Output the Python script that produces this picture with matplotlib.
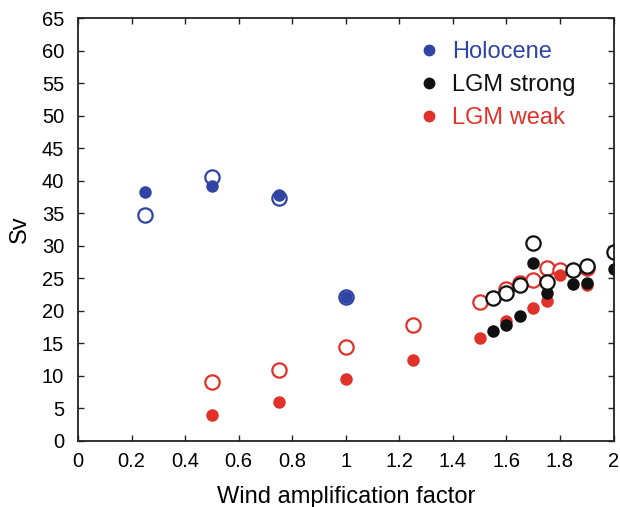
import matplotlib
matplotlib.use("Agg")
import matplotlib.pyplot as plt
from matplotlib.lines import Line2D

plt.rcParams['font.family'] = ['Liberation Sans', 'DejaVu Sans']

blue = "#2f44a3"
red = "#e1322a"
black = "#111111"

# Holocene
hol_x = [0.25, 0.5, 0.75, 1.0]
hol_filled = [38.2, 39.2, 37.8, 22.1]
hol_open = [34.7, 40.6, 37.4, 22.2]

# LGM strong
strong_x = [1.55, 1.6, 1.65, 1.7, 1.75, 1.85, 1.9, 2.0]
strong_filled = [16.9, 17.9, 19.2, 27.3, 22.7, 24.1, 24.3, 26.4]
strong_open = [22.0, 22.8, 24.0, 30.4, 24.4, 26.2, 26.9, 29.0]

# LGM weak
weak_filled_x = [0.5, 0.75, 1.0, 1.25, 1.5, 1.6, 1.7, 1.75, 1.8, 1.9]
weak_filled = [4.0, 6.0, 9.5, 12.5, 15.8, 18.4, 20.4, 21.5, 25.5, 24.0]
weak_open_x = [0.5, 0.75, 1.0, 1.25, 1.5, 1.6, 1.65, 1.7, 1.75, 1.8, 1.9]
weak_open = [9.1, 10.9, 14.4, 17.8, 21.3, 23.3, 24.3, 24.8, 26.6, 26.2, 26.6]

fig = plt.figure(figsize=(6.2, 5.07), dpi=100)
ax = fig.add_axes([78 / 620, 1 - 441 / 507, 535.5 / 620, 423 / 507])

filled_kw = dict(linestyle="none", marker="o", markersize=9, markeredgewidth=0)
open_kw = dict(linestyle="none", marker="o", markersize=10.3, markeredgewidth=1.6,
               markerfacecolor="white")

ax.plot(weak_open_x, weak_open, color=red, **open_kw)
ax.plot(weak_filled_x, weak_filled, color=red, **filled_kw)
ax.plot(strong_x, strong_filled, color=black, **filled_kw)
ax.plot(strong_x, strong_open, color=black, **open_kw)
ax.plot(hol_x, hol_open, color=blue, **open_kw)
ax.plot(hol_x, hol_filled, color=blue, **filled_kw)

ax.set_xlim(0, 2)
ax.set_ylim(0, 65)
ax.set_xticks([0, 0.2, 0.4, 0.6, 0.8, 1, 1.2, 1.4, 1.6, 1.8, 2])
ax.set_xticklabels(["0", "0.2", "0.4", "0.6", "0.8", "1", "1.2", "1.4", "1.6", "1.8", "2"])
ax.set_yticks(range(0, 66, 5))
ax.tick_params(direction="in", length=4, width=1, top=True, right=True,
               labelsize=14.5, color="#222222")
ax.tick_params(axis="y", pad=10)
ax.tick_params(axis="x", pad=8)
for s in ax.spines.values():
    s.set_linewidth(1.3)
    s.set_color("#222222")

ax.set_xlabel("Wind amplification factor", fontsize=17, labelpad=11)
ax.set_ylabel("Sv", fontsize=17, labelpad=8)

handles = [Line2D([], [], linestyle="none", marker="o", markersize=7.5, color=c)
           for c in (blue, black, red)]
leg = ax.legend(handles, ["Holocene", "LGM strong", "LGM weak"], loc="upper left",
                bbox_to_anchor=(0.589, 0.996), frameon=False, fontsize=17,
                handletextpad=0.4, labelspacing=0.47, handlelength=1.2)
for t, c in zip(leg.get_texts(), (blue, black, red)):
    t.set_color(c)

fig.savefig("out.png", dpi=100)
